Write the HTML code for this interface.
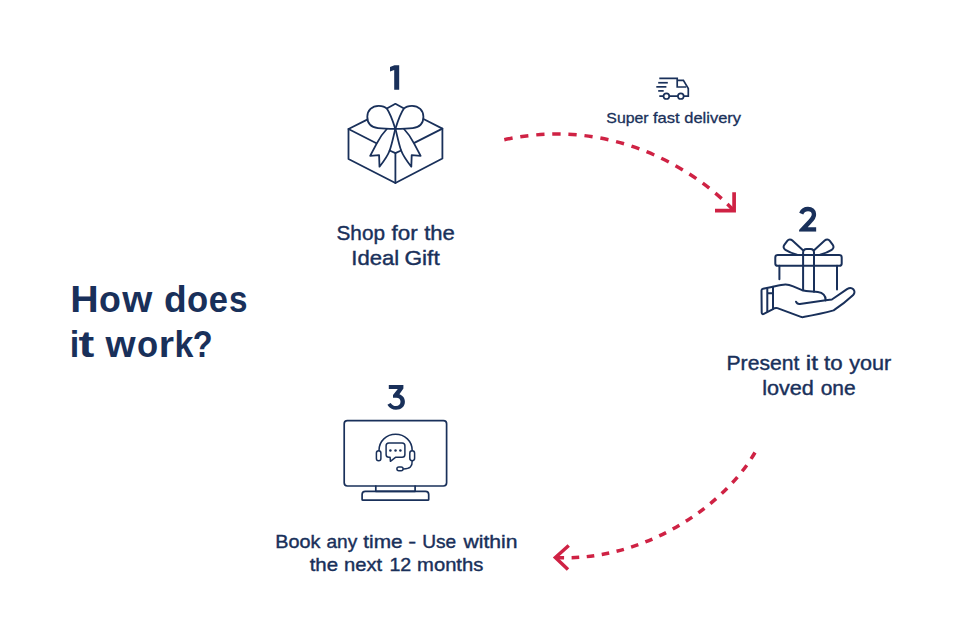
<!DOCTYPE html>
<html>
<head>
<meta charset="utf-8">
<title>How does it work?</title>
<style>
html,body{margin:0;padding:0;background:#fff;}
body{width:980px;height:640px;position:relative;overflow:hidden;font-family:"Liberation Sans",sans-serif;}
svg{position:absolute;left:0;top:0;display:block;}
text{font-family:"Liberation Sans",sans-serif;fill:#19305a;}
</style>
</head>
<body>
<svg width="980" height="640" viewBox="0 0 980 640">
<g fill="none" stroke="#19305a" stroke-width="1.8" stroke-linejoin="round" stroke-linecap="round">
<!-- gift box (step 1) -->
<path d="M367.2,119.6 L348.5,129 L348.5,159 L395.4,183 L442.4,158.5 L442.4,128.6 L424,119.3"/>
<path d="M348.5,129 L376.4,143.2"/>
<path d="M442.4,128.6 L414.3,142.9"/>
<path d="M395.4,153 L395.4,183"/>
<path d="M387.3,108.2 L395.4,103.8 L403.6,108.2"/>
<path d="M395.35,128.9 C392.5,120 389.5,112.5 386.8,108.6 C384.8,106.4 382,105.8 378.7,105.8 C372,105.8 367.3,110.5 367.3,116.8 C367.3,123.5 371.5,127.4 378,128.1 C383,128.6 389,128.8 395.35,128.9 Z"/>
<path d="M395.35,128.9 C398.2,120 401.2,112.5 403.9,108.6 C405.9,106.4 408.7,105.8 412.0,105.8 C418.7,105.8 423.4,110.5 423.4,116.8 C423.4,123.5 419.2,127.4 412.7,128.1 C407.7,128.6 401.7,128.8 395.35,128.9 Z"/>
<path d="M386.8,129 C382.5,133.5 379,139 376.65,143.6 L370.15,155.8 L379.1,155.1 L379.5,166.7 C384,161 388,155 389.65,150.5 C392,144 393.5,136 395.4,128.6"/>
<path d="M404,129 C408.3,133.5 411.8,139 414.15,143.6 L420.65,155.8 L411.7,155.1 L411.3,166.7 C406.8,161 402.8,155 401.15,150.5 C398.8,144 397.3,136 395.4,128.6"/>
<path d="M389.65,150.5 L395.4,153.1 L401.15,150.5"/>
<!-- gift in hand (step 2) -->
<g stroke-width="2">
<rect x="775.3" y="255" width="66.4" height="10.8" rx="2.4"/>
<path d="M779.4,265.8 L779.4,279.2"/>
<path d="M837,265.8 L837,289.4"/>
<path d="M803.1,290.2 L803.1,252.6 C803.1,250.2 804.6,248.9 806.6,248.9 L810.5,248.9 C812.5,248.9 814,250.2 814,252.6 L814,291.7"/>
<path d="M803,250.2 L792.4,240.6 C790.8,239.1 788.6,239.2 787.3,240.8 L784.3,244.8 C783,246.6 783.5,248.6 785.4,249.8 C788.5,251.8 792.5,253.4 797,254.6"/>
<path d="M814.1,250.2 L824.7,240.6 C826.3,239.1 828.5,239.2 829.8,240.8 L832.8,244.8 C834.1,246.6 833.6,248.6 831.7,249.8 C828.6,251.8 824.6,253.4 820.1,254.6"/>
<!-- hand -->
<path d="M773,286.8 L763,288.8 C761.9,289 761.5,289.6 761.5,290.6 L761.7,312.6 C761.7,313.9 762.6,314.5 763.8,313.9 L773,309.2 Z"/>
<path d="M767.3,289 L767.3,311.6 M767.3,293.2 L773,293.2" stroke-width="2"/>
<path d="M773,286.8 C778,285.6 781.5,284.6 785.3,284.5 C788.5,284.4 790.6,285.2 793.2,286.3 L802.1,290.2 C807,291.3 812.5,291.4 817.9,292.1 C822.8,292.8 825.6,295.4 825.7,300.2"/>
<path d="M825.7,300.3 C816.5,301.6 808,302.8 799.9,304 C798,304.2 796.6,303.2 796,301.7"/>
<path d="M825.7,300.3 L831.9,299.5 L847,289.2 C849.3,287.8 851.8,287.8 853.3,289.3 C854.9,290.9 854.9,293.3 853.2,294.9 C847,300.6 840.5,305.8 833.6,310.4 C824,313 813.5,315.2 803.3,317.1 C802.3,317.2 801.3,317 800.3,316.6 L777.4,308.1 C775.8,307.6 774.4,308 773,308.9"/>
</g>
<!-- monitor (step 3) -->
<g stroke-width="1.7">
<rect x="344.2" y="420.6" width="102.4" height="65.4" rx="3.2"/>
<path d="M375.8,486 L375.8,491.3 L415.1,491.3 L415.1,486"/>
<path d="M362.1,499.4 L362.1,494.5 C362.1,492.4 363.4,491.3 365.3,491.3 L425.5,491.3 C427.4,491.3 428.7,492.4 428.7,494.5 L428.7,499.4 C428.7,499.9 428.4,500.2 427.9,500.2 L362.9,500.2 C362.4,500.2 362.1,499.9 362.1,499.4 Z"/>
</g>
<g stroke-width="1.5">
<path d="M379,450.4 C379,441.2 386.4,434.3 395.6,434.3 C404.8,434.3 412.2,441.2 412.2,450.4"/>
<rect x="376.4" y="450.8" width="4.5" height="9.9" rx="2.25"/>
<rect x="409.8" y="450.8" width="4.8" height="9.9" rx="2.4"/>
<path d="M412.2,460.8 C412.4,466.4 410,468.9 403.6,468.9"/>
<rect x="396.9" y="466.9" width="6.2" height="3.9" rx="1.95"/>
<path d="M388.9,442.9 L402.1,442.9 C403.9,442.9 404.9,443.9 404.9,445.7 L404.9,454.5 C404.9,456.3 403.9,457.3 402.1,457.3 L395.5,457.3 L390.4,461.3 L390.1,457.3 L388.9,457.3 C387.1,457.3 386.1,456.3 386.1,454.5 L386.1,445.7 C386.1,443.9 387.1,442.9 388.9,442.9 Z"/>
</g>
</g>
<g fill="#19305a">
<circle cx="390.4" cy="450.5" r="1.25"/><circle cx="395.5" cy="450.5" r="1.25"/><circle cx="400.4" cy="450.5" r="1.25"/>
</g>
<!-- truck -->
<g fill="none" stroke="#19305a" stroke-width="1.7" stroke-linecap="butt" stroke-linejoin="miter">
<path d="M659.3,78.4 L677.2,78.4 L677.2,87 L686.1,87"/>
<path d="M677.2,80.4 L683.4,80.4 L688.3,88.6 L688.3,96.15 L659.3,96.15"/>
<path d="M658.2,82.75 L667.8,82.75"/>
<path d="M656.3,86.85 L666.4,86.85"/>
<path d="M658.2,90.9 L663.7,90.9"/>
<circle cx="666.4" cy="96.15" r="2.85" fill="#fff"/>
<circle cx="680.8" cy="96.15" r="2.85" fill="#fff"/>
</g>
<!-- digits -->
<path d="M390,67.1 L394.5,65.2 L399.2,65.2 L399.2,89.8 L394.2,89.8 L394.2,70.1 L390,71.5 Z" fill="#19305a"/>
<clipPath id="c2"><rect x="799.1" y="205" width="17.3" height="26.7"/></clipPath>
<path clip-path="url(#c2)" fill="none" stroke="#19305a" stroke-width="4.5" stroke-linejoin="miter" d="M801.2,213.6 C802.5,210.6 805,209 808,209 C811.5,209 814,211.2 814,214.3 C814,217 812.5,219 810,221.5 L802.6,229.45 L816.4,229.45"/>
<path fill="#19305a" d="M388.8,385 L403.4,385 L403.4,388.5 L399.4,394.3 C402.7,395.4 404.9,398.2 404.9,401.8 C404.9,406.6 401.2,409.8 396,409.8 C392.4,409.8 389.4,408 387.4,404.8 L390.6,402.9 C391.9,405 393.7,406 396,406 C398.8,406 400.5,404.3 400.5,401.8 C400.5,399.3 398.9,397.8 396.3,397.8 L393,397.8 L393,394.9 L397.8,389.05 L388.8,389.05 Z"/>
<!-- arrows -->
<g fill="none" stroke="#cf2244" stroke-width="3.5">
<path d="M504.3,139.75 C631.6,112 717.6,192.6 732.8,209.6" stroke-dasharray="8.3 7.8"/>
<path d="M715,210.6 L734.1,210.6 L734.1,192.2" stroke-linejoin="miter" stroke-width="3.7"/>
<path d="M755,452.5 C723.7,506.4 643.8,561.8 556,557.5" stroke-dasharray="7.6 7.55"/>
<path d="M568.75,545.5 L555.4,557.5 L568,569.5" stroke-linejoin="miter"/>
</g>

<g>
<text y="311.80" font-size="37.6" font-weight="bold"><tspan x="70.19" textLength="28.40" lengthAdjust="spacingAndGlyphs">H</tspan><tspan x="99.04" textLength="21.82" lengthAdjust="spacingAndGlyphs">o</tspan><tspan x="122.28" textLength="30.05" lengthAdjust="spacingAndGlyphs">w</tspan></text>
<text y="311.80" font-size="37.6" font-weight="bold"><tspan x="163.98" textLength="22.73" lengthAdjust="spacingAndGlyphs">d</tspan><tspan x="186.94" textLength="21.17" lengthAdjust="spacingAndGlyphs">o</tspan><tspan x="208.68" textLength="19.22" lengthAdjust="spacingAndGlyphs">e</tspan><tspan x="228.95" textLength="18.49" lengthAdjust="spacingAndGlyphs">s</tspan></text>
<text y="356.60" font-size="37.6" font-weight="bold"><tspan x="69.85" textLength="9.51" lengthAdjust="spacingAndGlyphs">i</tspan><tspan x="78.42" textLength="15.78" lengthAdjust="spacingAndGlyphs">t</tspan></text>
<text y="356.60" font-size="37.6" font-weight="bold"><tspan x="105.50" textLength="30.13" lengthAdjust="spacingAndGlyphs">w</tspan><tspan x="136.90" textLength="21.15" lengthAdjust="spacingAndGlyphs">o</tspan><tspan x="158.78" textLength="15.26" lengthAdjust="spacingAndGlyphs">r</tspan><tspan x="174.49" textLength="18.88" lengthAdjust="spacingAndGlyphs">k</tspan><tspan x="192.79" textLength="19.87" lengthAdjust="spacingAndGlyphs">?</tspan></text>
<text x="336.50" y="239.80" textLength="48.47" lengthAdjust="spacingAndGlyphs" font-size="20.6" stroke="#19305a" stroke-width="0.4">Shop</text>
<text x="391.59" y="239.80" textLength="26.18" lengthAdjust="spacingAndGlyphs" font-size="20.6" stroke="#19305a" stroke-width="0.4">for</text>
<text x="424.15" y="239.80" textLength="30.73" lengthAdjust="spacingAndGlyphs" font-size="20.6" stroke="#19305a" stroke-width="0.4">the</text>
<text x="351.35" y="264.80" textLength="47.92" lengthAdjust="spacingAndGlyphs" font-size="20.6" stroke="#19305a" stroke-width="0.4">Ideal</text>
<text x="404.46" y="264.80" textLength="35.26" lengthAdjust="spacingAndGlyphs" font-size="20.6" stroke="#19305a" stroke-width="0.4">Gift</text>
<text x="726.50" y="369.90" textLength="72.83" lengthAdjust="spacingAndGlyphs" font-size="20.4" stroke="#19305a" stroke-width="0.4">Present</text>
<text x="805.71" y="369.90" textLength="12.25" lengthAdjust="spacingAndGlyphs" font-size="20.4" stroke="#19305a" stroke-width="0.4">it</text>
<text x="824.08" y="369.90" textLength="18.60" lengthAdjust="spacingAndGlyphs" font-size="20.4" stroke="#19305a" stroke-width="0.4">to</text>
<text x="849.16" y="369.90" textLength="42.05" lengthAdjust="spacingAndGlyphs" font-size="20.4" stroke="#19305a" stroke-width="0.4">your</text>
<text x="762.17" y="395.00" textLength="51.76" lengthAdjust="spacingAndGlyphs" font-size="20.4" stroke="#19305a" stroke-width="0.4">loved</text>
<text x="820.68" y="395.00" textLength="35.01" lengthAdjust="spacingAndGlyphs" font-size="20.4" stroke="#19305a" stroke-width="0.4">one</text>
<text x="275.37" y="548.00" textLength="45.14" lengthAdjust="spacingAndGlyphs" font-size="18.6" stroke="#19305a" stroke-width="0.4">Book</text>
<text x="326.42" y="548.00" textLength="30.78" lengthAdjust="spacingAndGlyphs" font-size="18.6" stroke="#19305a" stroke-width="0.4">any</text>
<text x="363.33" y="548.00" textLength="39.32" lengthAdjust="spacingAndGlyphs" font-size="18.6" stroke="#19305a" stroke-width="0.4">time</text>
<text x="408.16" y="548.00" textLength="7.94" lengthAdjust="spacingAndGlyphs" font-size="18.6" stroke="#19305a" stroke-width="0.4">-</text>
<text x="422.27" y="548.00" textLength="33.97" lengthAdjust="spacingAndGlyphs" font-size="18.6" stroke="#19305a" stroke-width="0.4">Use</text>
<text x="463.54" y="548.00" textLength="53.95" lengthAdjust="spacingAndGlyphs" font-size="18.6" stroke="#19305a" stroke-width="0.4">within</text>
<text x="309.68" y="571.20" textLength="28.37" lengthAdjust="spacingAndGlyphs" font-size="18.6" stroke="#19305a" stroke-width="0.4">the</text>
<text x="344.07" y="571.20" textLength="38.16" lengthAdjust="spacingAndGlyphs" font-size="18.6" stroke="#19305a" stroke-width="0.4">next</text>
<text x="389.42" y="571.20" textLength="21.83" lengthAdjust="spacingAndGlyphs" font-size="18.6" stroke="#19305a" stroke-width="0.4">12</text>
<text x="417.08" y="571.20" textLength="66.23" lengthAdjust="spacingAndGlyphs" font-size="18.6" stroke="#19305a" stroke-width="0.4">months</text>
<text x="606.38" y="122.60" textLength="42.25" lengthAdjust="spacingAndGlyphs" font-size="15.0" stroke="#19305a" stroke-width="0.3">Super</text>
<text x="652.96" y="122.60" textLength="26.78" lengthAdjust="spacingAndGlyphs" font-size="15.0" stroke="#19305a" stroke-width="0.3">fast</text>
<text x="684.28" y="122.60" textLength="56.74" lengthAdjust="spacingAndGlyphs" font-size="15.0" stroke="#19305a" stroke-width="0.3">delivery</text>
</g>
</svg>
</body>
</html>
